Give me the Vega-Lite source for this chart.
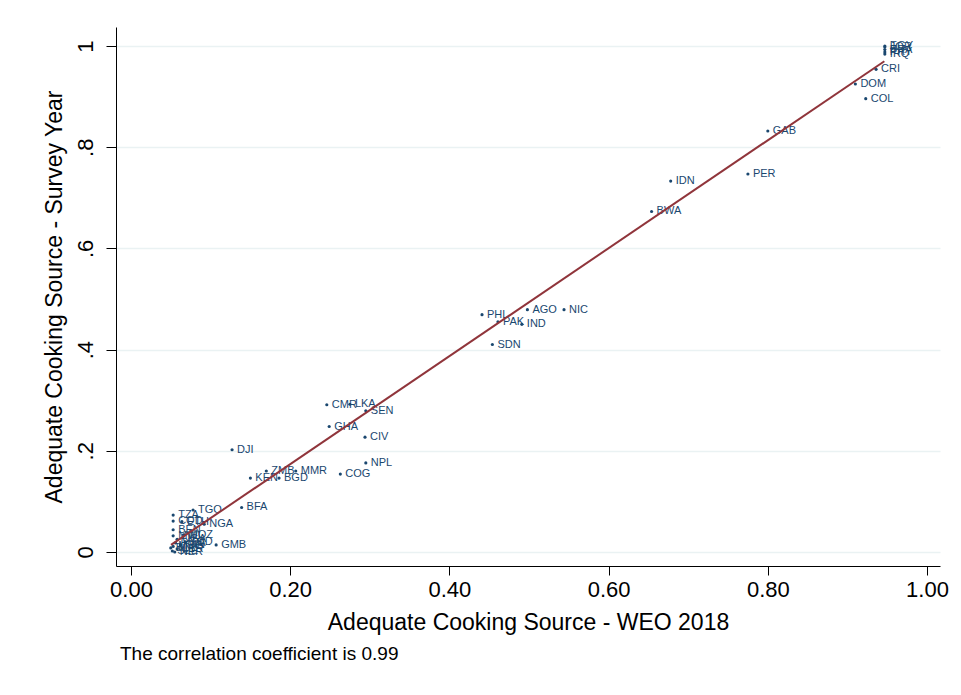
{
  "$schema": "https://vega.github.io/schema/vega-lite/v6.json",
  "width": 824,
  "height": 539,
  "autosize": "none",
  "padding": {"left": 116, "top": 27, "right": 21, "bottom": 129},
  "background": "white",
  "config": {
    "view": {"stroke": null},
    "font": "Liberation Sans"
  },
  "title": {
    "text": "The correlation coefficient is 0.99",
    "orient": "bottom",
    "anchor": "start",
    "frame": "group",
    "font": "Liberation Sans",
    "fontSize": 19,
    "fontWeight": "normal",
    "color": "black",
    "offset": 11,
    "dx": 4
  },
  "datasets": {
    "pts": [
      {"code": "EGY", "weo": 0.947, "survey": 1.000},
      {"code": "JOR", "weo": 0.947, "survey": 0.998},
      {"code": "BRA", "weo": 0.947, "survey": 0.993},
      {"code": "PRY", "weo": 0.947, "survey": 0.988},
      {"code": "IRQ", "weo": 0.947, "survey": 0.984},
      {"code": "CRI", "weo": 0.936, "survey": 0.954},
      {"code": "DOM", "weo": 0.910, "survey": 0.925},
      {"code": "COL", "weo": 0.923, "survey": 0.896},
      {"code": "GAB", "weo": 0.800, "survey": 0.832},
      {"code": "PER", "weo": 0.775, "survey": 0.747},
      {"code": "IDN", "weo": 0.678, "survey": 0.733},
      {"code": "BWA", "weo": 0.654, "survey": 0.673},
      {"code": "NIC", "weo": 0.544, "survey": 0.479},
      {"code": "AGO", "weo": 0.498, "survey": 0.479},
      {"code": "PHL", "weo": 0.441, "survey": 0.469},
      {"code": "PAK", "weo": 0.461, "survey": 0.455},
      {"code": "IND", "weo": 0.491, "survey": 0.450},
      {"code": "SDN", "weo": 0.454, "survey": 0.410},
      {"code": "CMR", "weo": 0.246, "survey": 0.291},
      {"code": "LKA", "weo": 0.275, "survey": 0.292},
      {"code": "SEN", "weo": 0.295, "survey": 0.279},
      {"code": "GHA", "weo": 0.249, "survey": 0.248},
      {"code": "CIV", "weo": 0.294, "survey": 0.227},
      {"code": "DJI", "weo": 0.127, "survey": 0.202},
      {"code": "NPL", "weo": 0.295, "survey": 0.176},
      {"code": "ZMB", "weo": 0.170, "survey": 0.160},
      {"code": "MMR", "weo": 0.207, "survey": 0.160},
      {"code": "COG", "weo": 0.263, "survey": 0.154},
      {"code": "KEN", "weo": 0.150, "survey": 0.146},
      {"code": "BGD", "weo": 0.186, "survey": 0.146},
      {"code": "BFA", "weo": 0.139, "survey": 0.088},
      {"code": "TGO", "weo": 0.078, "survey": 0.083},
      {"code": "TZA", "weo": 0.053, "survey": 0.073},
      {"code": "COD", "weo": 0.053, "survey": 0.061},
      {"code": "ETH", "weo": 0.064, "survey": 0.060},
      {"code": "NGA", "weo": 0.092, "survey": 0.055},
      {"code": "BEN", "weo": 0.053, "survey": 0.044},
      {"code": "GMB", "weo": 0.107, "survey": 0.014},
      {"code": "MWI", "weo": 0.053, "survey": 0.032},
      {"code": "MOZ", "weo": 0.066, "survey": 0.034},
      {"code": "UGA", "weo": 0.058, "survey": 0.025},
      {"code": "TCD", "weo": 0.068, "survey": 0.020},
      {"code": "RWA", "weo": 0.056, "survey": 0.018},
      {"code": "GIN", "weo": 0.062, "survey": 0.014},
      {"code": "MDG", "weo": 0.053, "survey": 0.011},
      {"code": "BDI", "weo": 0.050, "survey": 0.008},
      {"code": "LBR", "weo": 0.058, "survey": 0.006},
      {"code": "SLE", "weo": 0.052, "survey": 0.002},
      {"code": "NER", "weo": 0.055, "survey": 0.000}
    ],
    "fit": [
      {"weo": 0.0503, "fitted": 0.0139},
      {"weo": 0.9464, "fitted": 0.970}
    ]
  },
  "layer": [
    {
      "data": {"name": "pts"},
      "mark": {"type": "circle", "color": "#1a476f", "opacity": 1, "size": 10},
      "encoding": {
        "x": {
          "field": "weo", "type": "quantitative",
          "scale": {"domain": [-0.0188, 1.0163], "nice": false, "zero": false},
          "axis": {
            "title": "Adequate Cooking Source - WEO 2018",
            "values": [0, 0.2, 0.4, 0.6, 0.8, 1],
            "format": ".2f",
            "grid": false,
            "domainColor": "black",
            "domainWidth": 1,
            "tickColor": "black",
            "tickSize": 9,
            "tickWidth": 1,
            "labelFont": "Liberation Sans",
            "labelFontSize": 22,
            "labelColor": "black",
            "labelPadding": 4,
            "labelFlush": false,
            "titleFont": "Liberation Sans",
            "titleFontSize": 23,
            "titleFontWeight": "normal",
            "titleColor": "black",
            "titlePadding": 11
          }
        },
        "y": {
          "field": "survey", "type": "quantitative",
          "scale": {"domain": [-0.0277, 1.0376], "nice": false, "zero": false},
          "axis": {
            "title": "Adequate Cooking Source - Survey Year",
            "values": [0, 0.2, 0.4, 0.6, 0.8, 1],
            "labelExpr": "datum.value == 0 ? '0' : datum.value == 1 ? '1' : replace(format(datum.value, '.1f'), '0.', '.')",
            "grid": true,
            "gridColor": "#eaf2f3",
            "gridWidth": 1.5,
            "domainColor": "black",
            "domainWidth": 1,
            "tickColor": "black",
            "tickSize": 10,
            "tickWidth": 1,
            "labelFont": "Liberation Sans",
            "labelFontSize": 22,
            "labelColor": "black",
            "labelAngle": -90,
            "labelAlign": "center",
            "labelBaseline": "alphabetic",
            "labelPadding": 14,
            "labelFlush": false,
            "titleFont": "Liberation Sans",
            "titleFontSize": 23,
            "titleFontWeight": "normal",
            "titleColor": "black",
            "titlePadding": 8
          }
        }
      }
    },
    {
      "data": {"name": "pts"},
      "mark": {"type": "text", "align": "left", "baseline": "middle", "dx": 5, "fontSize": 11, "font": "Liberation Sans", "color": "#1a476f"},
      "encoding": {
        "x": {"field": "weo", "type": "quantitative"},
        "y": {"field": "survey", "type": "quantitative"},
        "text": {"field": "code"}
      }
    },
    {
      "data": {"name": "fit"},
      "mark": {"type": "line", "color": "#90353b", "strokeWidth": 2},
      "encoding": {
        "x": {"field": "weo", "type": "quantitative"},
        "y": {"field": "fitted", "type": "quantitative"}
      }
    }
  ]
}
